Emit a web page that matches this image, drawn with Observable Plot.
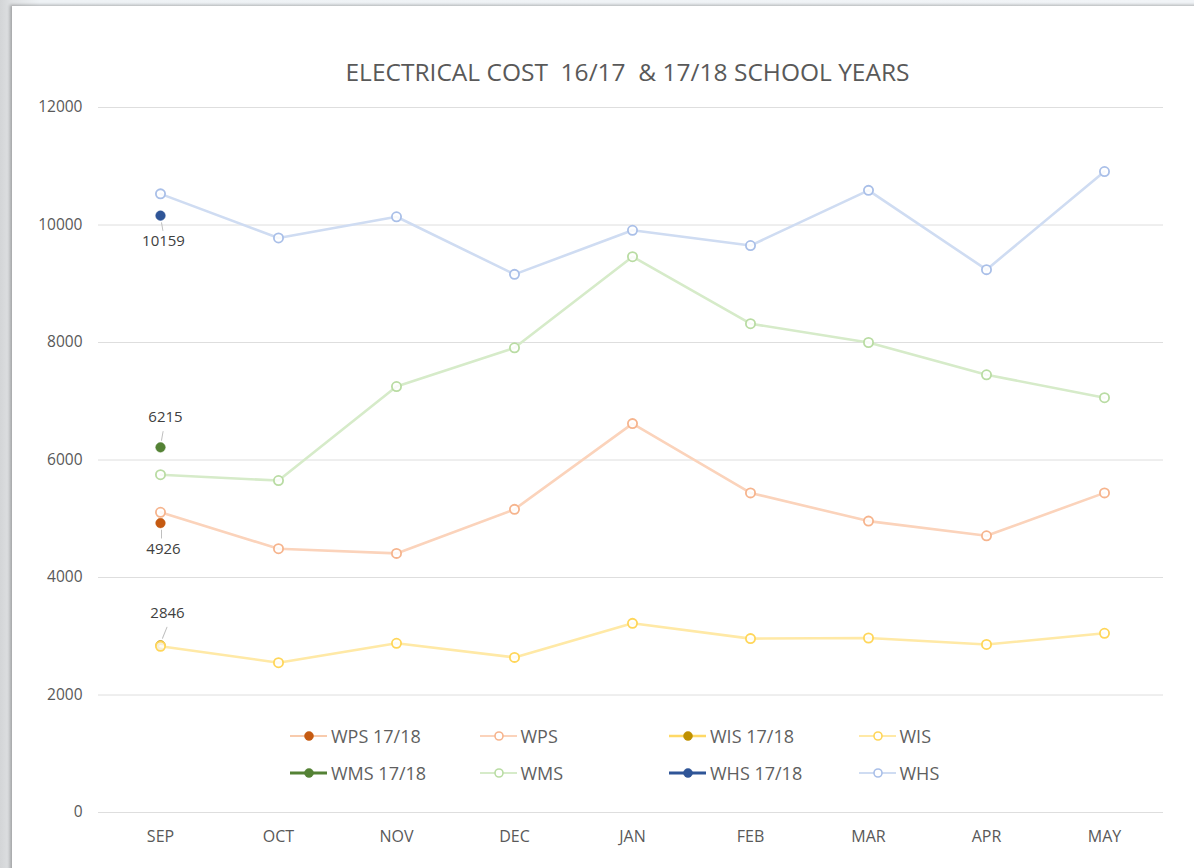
<!DOCTYPE html>
<html>
<head>
<meta charset="utf-8">
<script src="https://cdn.jsdelivr.net/npm/d3@7"></script>
<script src="https://cdn.jsdelivr.net/npm/@observablehq/plot@0.6"></script>
<style>
  html, body { margin: 0; padding: 0; }
  body {
    width: 1194px; height: 868px; overflow: hidden; position: relative;
    background: linear-gradient(90deg, #d3d5d7 0px, #e0e2e4 12px, #eef2f5 40px, #f1f4f7 100%);
    font-family: "Open Sans", "Noto Sans", sans-serif;
  }
  #card {
    position: absolute; left: 12px; top: 6px; right: -10px; bottom: -10px;
    background: #ffffff;
    box-shadow: -2px -1px 3px rgba(0,0,0,0.28);
  }
  #chart { position: absolute; left: 0; top: 0; }
  #title {
    position: absolute; left: 0; width: 1255px; top: 56px; text-align: center;
    font-size: 24.5px; line-height: 32px; color: #595959;
  }
  #legend {
    position: absolute; left: 290px; top: 717px;
    display: grid; grid-template-columns: repeat(4, 189.5px); grid-auto-rows: 37px;
    font-size: 18px; color: #5f5f5f;
  }
  .item { display: flex; align-items: center; white-space: nowrap; }
  .item svg { margin-right: 3px; }
</style>
</head>
<body>
<div id="card"></div>
<div id="chart"></div>
<div id="title">ELECTRICAL COST&nbsp; 16/17&nbsp; &amp; 17/18 SCHOOL YEARS</div>
<div id="legend"></div>
<script>
// ---- data ----
const months = ["SEP", "OCT", "NOV", "DEC", "JAN", "FEB", "MAR", "APR", "MAY"];
const wps = [5110, 4490, 4410, 5160, 6620, 5440, 4960, 4710, 5440];
const wis = [2830, 2550, 2880, 2640, 3220, 2960, 2970, 2860, 3050];
const wms = [5750, 5650, 7250, 7910, 9460, 8320, 8000, 7450, 7060];
const whs = [10530, 9780, 10140, 9160, 9910, 9650, 10590, 9240, 10910];
const months1718 = ["SEP"];
const wps1718 = [4926];
const wis1718 = [2846];
const wms1718 = [6215];
const whs1718 = [10159];
const yTicks = [0, 2000, 4000, 6000, 8000, 10000, 12000];

// ---- styles ----
const series = [
  {name: "WPS 17/18", values: wps1718, months: months1718, line: "#f8cbad", dot: "#c55a11", filled: true, lw: 2},
  {name: "WPS", values: wps, months: months, line: "#fbd3bb", dot: "#f6b48d", filled: false, lw: 2},
  {name: "WIS 17/18", values: wis1718, months: months1718, line: "#ffd966", dot: "#bf9000", filled: true, lw: 2.5},
  {name: "WIS", values: wis, months: months, line: "#ffe9a6", dot: "#ffd659", filled: false, lw: 2},
  {name: "WMS 17/18", values: wms1718, months: months1718, line: "#548235", dot: "#548235", filled: true, lw: 3},
  {name: "WMS", values: wms, months: months, line: "#d6ebc9", dot: "#b9dca3", filled: false, lw: 2},
  {name: "WHS 17/18", values: whs1718, months: months1718, line: "#2f5597", dot: "#2f5597", filled: true, lw: 3},
  {name: "WHS", values: whs, months: months, line: "#cfdcf2", dot: "#a9bfe8", filled: false, lw: 2}
];

const rows = series.map(s => s.values.map((v, i) => ({name: s.name, month: s.months[i], value: v})));

const labels = [
  {month: "SEP", value: whs1718[0], dx: 3, dy: 26, lx: 1, ly1: 7, ly2: 15, rot: 10},
  {month: "SEP", value: wms1718[0], dx: 5, dy: -30, lx: 1, ly1: -7, ly2: -16, rot: 10},
  {month: "SEP", value: wps1718[0], dx: 3, dy: 26, lx: 1, ly1: 7, ly2: 15, rot: 0},
  {month: "SEP", value: wis1718[0], dx: 7, dy: -32, lx: 2, ly1: -7, ly2: -19, rot: 22}
];

const leader = {draw(context, l) { context.moveTo(0, 0); context.lineTo(0, -l); }};

const marks = [
  Plot.ruleY(yTicks, {stroke: "#dedede", strokeWidth: 1, insetLeft: -2}),
  Plot.axisY({ticks: yTicks, tickSize: 0, tickPadding: 18, tickFormat: d => String(d), fontSize: 15.5, fill: "#595959", label: null}),
  Plot.axisX({tickSize: 0, tickPadding: 18, fontSize: 16, fill: "#595959", label: null})
];
series.forEach((s, k) => {
  const data = rows[k];
  if (!s.filled) {
    marks.push(Plot.line(data, {x: "month", y: "value", stroke: s.line, strokeWidth: 2.6}));
    marks.push(Plot.dot(data, {x: "month", y: "value", r: 4.6, stroke: s.dot, strokeWidth: 1.8, fill: "#ffffff", fillOpacity: 0.85}));
  } else {
    marks.push(Plot.dot(data, {x: "month", y: "value", r: 4.8, fill: s.dot, stroke: s.dot, strokeWidth: 0.5}));
  }
});
// leader lines + data labels
labels.forEach(l => {
  marks.push(Plot.vector([l], {x: "month", y: "value", length: Math.abs(l.ly2 - l.ly1), rotate: l.ly2 > 0 ? 180 - l.rot : l.rot, anchor: "start", dx: l.lx, dy: l.ly1, shape: leader, stroke: "#bfbfbf", strokeWidth: 1}));
  marks.push(Plot.text([l], {x: "month", y: "value", text: d => String(d.value), dx: l.dx, dy: l.dy, fontSize: 15, fill: "#404040"}));
});

const chart = Plot.plot({
  width: 1194,
  height: 868,
  marginLeft: 100,
  marginRight: 31,
  marginTop: 107,
  marginBottom: 56,
  style: {background: "transparent", fontFamily: "'Open Sans', 'Noto Sans', sans-serif", overflow: "visible"},
  x: {type: "point", domain: months, padding: 0.5, label: null},
  y: {domain: [0, 12000], label: null},
  marks
});
document.getElementById("chart").appendChild(chart);

// ---- legend ----
const legend = document.getElementById("legend");
series.forEach(s => {
  const item = document.createElement("div");
  item.className = "item";
  const ns = "http://www.w3.org/2000/svg";
  const svg = document.createElementNS(ns, "svg");
  svg.setAttribute("width", 38); svg.setAttribute("height", 14);
  const ln = document.createElementNS(ns, "line");
  ln.setAttribute("x1", 0); ln.setAttribute("x2", 37); ln.setAttribute("y1", 7); ln.setAttribute("y2", 7);
  ln.setAttribute("stroke", s.line); ln.setAttribute("stroke-width", s.lw);
  svg.appendChild(ln);
  const c = document.createElementNS(ns, "circle");
  c.setAttribute("cx", 19); c.setAttribute("cy", 7); c.setAttribute("r", s.filled ? 4.5 : 4);
  c.setAttribute("fill", s.filled ? s.dot : "#ffffff");
  c.setAttribute("stroke", s.dot); c.setAttribute("stroke-width", s.filled ? 0.5 : 1.6);
  svg.appendChild(c);
  item.appendChild(svg);
  const t = document.createElement("span");
  t.textContent = s.name;
  item.appendChild(t);
  legend.appendChild(item);
});
</script>
</body>
</html>
